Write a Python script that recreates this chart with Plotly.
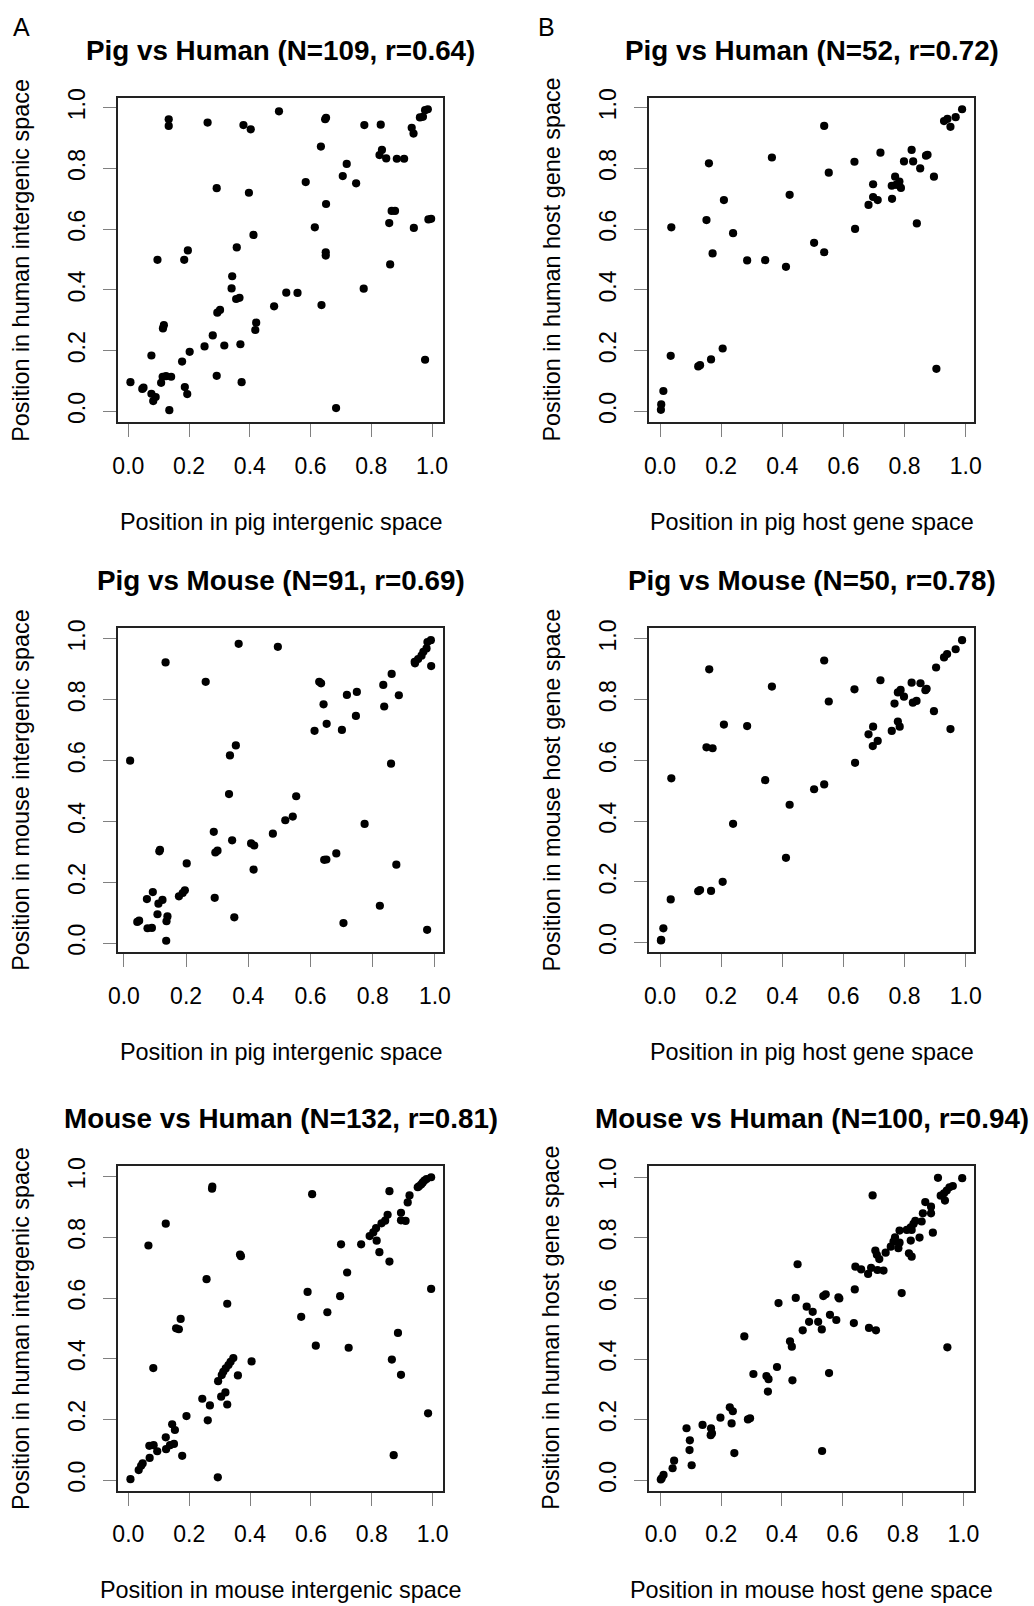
import plotly.graph_objects as go

# ---------------- data ----------------
a1_x = [0.133,0.133,0.261,0.379,0.403,0.496,0.648,0.651,0.777,0.831,0.933,0.939,0.960,0.970,0.977,0.986,
        0.634,0.827,0.835,0.849,0.884,0.908,0.719,0.706,0.750,0.584,0.291,0.397,0.651,0.867,0.878,0.859,
        0.988,0.997,0.940,0.614,0.412,0.357,0.196,0.096,0.184,0.650,0.650,0.862,0.342,0.340,0.355,0.366,
        0.520,0.557,0.775,0.480,0.636,0.293,0.302,0.421,0.418,0.117,0.114,0.278,0.251,0.316,0.369,0.202,
        0.177,0.076,0.291,0.373,0.113,0.124,0.141,0.108,0.007,0.046,0.050,0.076,0.090,0.082,0.186,0.194,
        0.135,0.684,0.977]
a1_y = [0.962,0.940,0.951,0.943,0.929,0.988,0.962,0.967,0.943,0.944,0.934,0.915,0.968,0.970,0.992,0.995,
        0.872,0.844,0.861,0.833,0.832,0.832,0.815,0.775,0.751,0.755,0.735,0.720,0.683,0.660,0.660,0.620,
        0.632,0.634,0.604,0.606,0.581,0.540,0.530,0.499,0.499,0.524,0.513,0.484,0.445,0.405,0.370,0.374,
        0.391,0.390,0.404,0.346,0.350,0.325,0.334,0.292,0.268,0.284,0.273,0.250,0.214,0.217,0.221,0.196,
        0.164,0.184,0.117,0.096,0.114,0.116,0.114,0.094,0.096,0.074,0.078,0.058,0.047,0.034,0.080,0.057,
        0.004,0.011,0.170]

b1_x = [0.988,0.967,0.929,0.940,0.950,0.537,0.823,0.721,0.870,0.875,0.798,0.828,0.636,0.366,0.160,0.851,
        0.552,0.896,0.769,0.758,0.783,0.788,0.772,0.697,0.424,0.697,0.712,0.759,0.682,0.209,0.152,0.840,
        0.037,0.638,0.239,0.504,0.172,0.537,0.285,0.344,0.412,0.205,0.035,0.167,0.125,0.131,0.904,0.011,
        0.004,0.003]
b1_y = [0.995,0.969,0.956,0.963,0.937,0.940,0.861,0.852,0.842,0.845,0.823,0.823,0.822,0.836,0.817,0.800,
        0.786,0.773,0.773,0.743,0.757,0.736,0.746,0.748,0.713,0.706,0.696,0.700,0.680,0.696,0.630,0.619,
        0.606,0.601,0.587,0.555,0.520,0.524,0.497,0.498,0.476,0.207,0.183,0.171,0.148,0.152,0.140,0.067,
        0.023,0.005]

a2_x = [0.987,0.976,0.973,0.963,0.957,0.946,0.935,0.936,0.988,0.369,0.495,0.134,0.263,0.628,0.634,0.861,
        0.834,0.717,0.749,0.884,0.642,0.837,0.746,0.652,0.701,0.613,0.360,0.341,0.020,0.859,0.338,0.554,
        0.519,0.543,0.479,0.774,0.289,0.348,0.409,0.419,0.294,0.301,0.116,0.114,0.683,0.644,0.651,0.202,
        0.417,0.876,0.196,0.189,0.177,0.093,0.074,0.124,0.111,0.292,0.108,0.140,0.137,0.043,0.049,0.076,
        0.090,0.355,0.823,0.706,0.975,0.136]
a2_y = [0.996,0.990,0.969,0.958,0.945,0.934,0.925,0.920,0.911,0.984,0.974,0.923,0.859,0.859,0.854,0.885,
        0.849,0.816,0.826,0.815,0.785,0.778,0.747,0.721,0.701,0.698,0.650,0.617,0.600,0.590,0.490,0.483,
        0.404,0.416,0.360,0.392,0.366,0.338,0.328,0.321,0.298,0.304,0.307,0.302,0.295,0.274,0.275,0.262,
        0.242,0.258,0.174,0.165,0.154,0.168,0.145,0.142,0.130,0.149,0.095,0.088,0.072,0.070,0.074,0.049,
        0.050,0.085,0.123,0.066,0.044,0.008]

b2_x = [0.988,0.967,0.929,0.939,0.903,0.537,0.161,0.721,0.823,0.852,0.868,0.872,0.366,0.636,0.778,0.787,
        0.798,0.552,0.767,0.827,0.839,0.896,0.209,0.285,0.778,0.784,0.697,0.682,0.758,0.950,0.712,0.696,
        0.152,0.172,0.638,0.037,0.344,0.537,0.504,0.424,0.239,0.412,0.205,0.125,0.131,0.167,0.035,0.011,
        0.003,0.004]
b2_y = [0.996,0.966,0.939,0.950,0.906,0.929,0.900,0.864,0.856,0.854,0.831,0.836,0.843,0.834,0.824,0.832,
        0.810,0.794,0.787,0.790,0.796,0.762,0.718,0.713,0.728,0.711,0.711,0.686,0.697,0.703,0.664,0.647,
        0.643,0.640,0.592,0.541,0.535,0.521,0.505,0.454,0.391,0.279,0.200,0.169,0.173,0.170,0.142,0.047,
        0.007,0.009]

a3_x = [0.995,0.980,0.973,0.967,0.962,0.955,0.951,0.276,0.275,0.604,0.858,0.924,0.918,0.123,0.896,0.896,
        0.911,0.852,0.844,0.832,0.814,0.805,0.793,0.816,0.825,0.858,0.066,0.699,0.765,0.370,0.367,0.719,
        0.257,0.589,0.696,0.995,0.325,0.654,0.568,0.172,0.157,0.166,0.886,0.616,0.724,0.866,0.896,0.082,
        0.345,0.336,0.329,0.320,0.312,0.307,0.295,0.405,0.360,0.319,0.305,0.243,0.268,0.325,0.191,0.261,
        0.144,0.153,0.123,0.069,0.083,0.095,0.124,0.137,0.150,0.177,0.070,0.047,0.042,0.034,0.007,0.294,
        0.985,0.872]
a3_y = [0.998,0.992,0.987,0.980,0.974,0.968,0.965,0.967,0.960,0.942,0.952,0.938,0.915,0.845,0.881,0.856,
        0.854,0.874,0.855,0.846,0.830,0.816,0.804,0.789,0.751,0.720,0.773,0.777,0.777,0.738,0.743,0.684,
        0.662,0.620,0.606,0.630,0.581,0.553,0.538,0.531,0.500,0.497,0.485,0.443,0.436,0.397,0.347,0.369,
        0.402,0.390,0.379,0.368,0.357,0.346,0.326,0.391,0.345,0.289,0.275,0.268,0.246,0.249,0.211,0.197,
        0.184,0.165,0.141,0.113,0.115,0.095,0.102,0.115,0.119,0.080,0.073,0.055,0.047,0.033,0.003,0.009,
        0.220,0.082]

b3_x = [0.996,0.916,0.700,0.965,0.954,0.945,0.936,0.925,0.939,0.874,0.893,0.866,0.893,0.862,0.841,0.835,
        0.826,0.829,0.813,0.789,0.899,0.855,0.826,0.774,0.769,0.789,0.760,0.785,0.820,0.829,0.709,0.743,
        0.722,0.714,0.643,0.662,0.695,0.685,0.716,0.736,0.452,0.641,0.796,0.389,0.446,0.537,0.545,0.587,
        0.590,0.482,0.502,0.559,0.490,0.520,0.580,0.469,0.532,0.638,0.688,0.711,0.276,0.427,0.433,0.947,
        0.384,0.306,0.349,0.356,0.435,0.556,0.354,0.228,0.238,0.197,0.234,0.288,0.295,0.085,0.138,0.166,
        0.169,0.165,0.096,0.095,0.102,0.243,0.533,0.044,0.039,0.009,0.003,0.000]
b3_y = [0.997,0.998,0.940,0.971,0.967,0.956,0.947,0.939,0.923,0.918,0.903,0.881,0.881,0.854,0.856,0.846,
        0.835,0.826,0.826,0.824,0.817,0.801,0.791,0.802,0.788,0.784,0.771,0.766,0.749,0.738,0.758,0.751,
        0.730,0.744,0.705,0.696,0.701,0.681,0.694,0.692,0.713,0.630,0.618,0.585,0.602,0.608,0.614,0.604,
        0.600,0.573,0.556,0.546,0.523,0.523,0.529,0.495,0.498,0.519,0.503,0.495,0.475,0.459,0.441,0.439,
        0.374,0.351,0.344,0.334,0.330,0.354,0.293,0.241,0.228,0.207,0.188,0.201,0.205,0.172,0.183,0.172,
        0.155,0.149,0.132,0.100,0.050,0.090,0.097,0.065,0.040,0.018,0.007,0.003]

titles = ["Pig vs Human (N=109, r=0.64)", "Pig vs Human (N=52, r=0.72)",
          "Pig vs Mouse (N=91, r=0.69)", "Pig vs Mouse (N=50, r=0.78)",
          "Mouse vs Human (N=132, r=0.81)", "Mouse vs Human (N=100, r=0.94)"]
x_labels = ["Position in pig intergenic space", "Position in pig host gene space",
            "Position in pig intergenic space", "Position in pig host gene space",
            "Position in mouse intergenic space", "Position in mouse host gene space"]
y_labels = ["Position in human intergenic space", "Position in human host gene space",
            "Position in mouse intergenic space", "Position in mouse host gene space",
            "Position in human intergenic space", "Position in human host gene space"]
tick_vals = [0.0, 0.2, 0.4, 0.6, 0.8, 1.0]
tick_text = ["0.0", "0.2", "0.4", "0.6", "0.8", "1.0"]
panel_letters = ["A", "B"]

series = [(a1_x, a1_y), (b1_x, b1_y), (a2_x, a2_y), (b2_x, b2_y), (a3_x, a3_y), (b3_x, b3_y)]

# ---------------- layout geometry (pixels) ----------------
W, H = 1034, 1606
col_px = [(118.3, 443.3), (649.0, 974.0)]
row_px = [(97.7, 422.3), (627.7, 952.3), (1165.7, 1490.7)]
x_ranges = [[-0.033, 1.037], [-0.036, 1.027], [-0.018, 1.027], [-0.036, 1.027], [-0.033, 1.035], [-0.039, 1.035]]
y_ranges = [[-0.036, 1.033], [-0.036, 1.033], [-0.030, 1.037], [-0.032, 1.037], [-0.035, 1.036], [-0.034, 1.038]]

def px_x(p):
    return p / W

def px_y(p):
    return 1 - p / H

FONT = "Liberation Sans, Arial, Helvetica, sans-serif"

fig = go.Figure()
annotations = []
layout_axes = {}

for i, (xs, ys) in enumerate(series):
    r, c = divmod(i, 2)
    n = i + 1
    xa = "x" if n == 1 else f"x{n}"
    ya = "y" if n == 1 else f"y{n}"
    fig.add_trace(go.Scatter(x=xs, y=ys, mode="markers", xaxis=xa, yaxis=ya,
                             marker=dict(size=8.2, color="black", line=dict(width=0)),
                             showlegend=False, hoverinfo="x+y"))
    l, rr = col_px[c]
    t, b = row_px[r]
    common = dict(showline=True, mirror=True, linecolor="#222222", linewidth=1.8,
                  showgrid=False, zeroline=False, ticks="outside", ticklen=13, tickwidth=1.3,
                  tickcolor="#808080", tickvals=tick_vals, ticktext=tick_text, automargin=False,
                  tickfont=dict(family=FONT, size=23, color="black"), fixedrange=True)
    layout_axes["xaxis" if n == 1 else f"xaxis{n}"] = dict(
        domain=[px_x(l), px_x(rr)], anchor=ya, range=x_ranges[i],
        ticklabelstandoff=9, **common)
    layout_axes["yaxis" if n == 1 else f"yaxis{n}"] = dict(
        domain=[px_y(b), px_y(t)], anchor=xa, range=y_ranges[i],
        tickangle=-90, ticklabelstandoff=9, **common)

    cx = (l + rr) / 2
    cy = (t + b) / 2
    annotations.append(dict(text=f"<b>{titles[i]}</b>", x=px_x(cx), y=px_y(t - 47.5),
                            xref="paper", yref="paper", xanchor="center", yanchor="middle",
                            showarrow=False, font=dict(family=FONT, size=27.8, color="black")))
    annotations.append(dict(text=x_labels[i], x=px_x(cx), y=px_y(b + 99.5),
                            xref="paper", yref="paper", xanchor="center", yanchor="middle",
                            showarrow=False, font=dict(family=FONT, size=23.4, color="black")))
    annotations.append(dict(text=y_labels[i], x=px_x(l - 97.5), y=px_y(cy),
                            xref="paper", yref="paper", xanchor="center", yanchor="middle",
                            textangle=-90, showarrow=False,
                            font=dict(family=FONT, size=23.4, color="black")))

for c, letter in enumerate(panel_letters):
    annotations.append(dict(text=letter, x=px_x([21, 546][c]), y=px_y(27),
                            xref="paper", yref="paper", xanchor="center", yanchor="middle",
                            showarrow=False, font=dict(family=FONT, size=25, color="black")))

fig.update_layout(width=W, height=H, margin=dict(l=0, r=0, t=0, b=0, pad=0, autoexpand=False),
                  paper_bgcolor="white", plot_bgcolor="white",
                  annotations=annotations, **layout_axes)

fig.write_html("out.html", config={"displayModeBar": False},
               post_script="document.body.style.margin='0px';")
